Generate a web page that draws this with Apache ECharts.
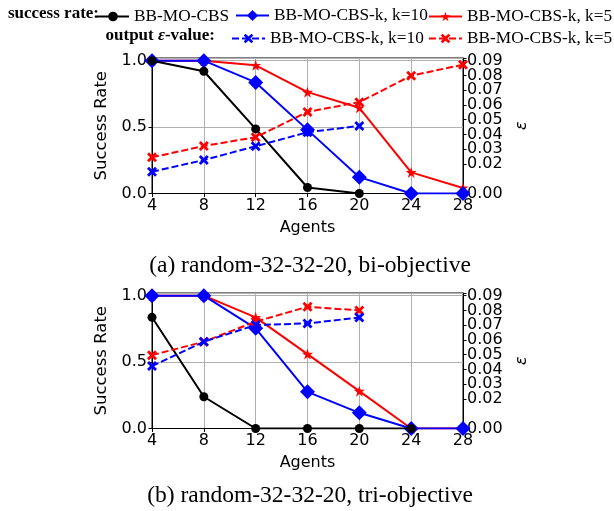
<!DOCTYPE html>
<html>
<head>
<meta charset="utf-8">
<script src="https://cdn.jsdelivr.net/npm/echarts@6/dist/echarts.min.js"></script>
<style>html,body{margin:0;padding:0;background:#fff;}#c{width:614px;height:511px;}</style>
</head>
<body>
<div id="c"></div>
<script>
// ---- data ----
var agents = [4, 8, 12, 16, 20, 24, 28];
var xTicks = [4, 8, 12, 16, 20, 24, 28];
var seriesNames = ['BB-MO-CBS', 'BB-MO-CBS-k, k=10', 'BB-MO-CBS-k, k=5', 'eps k=10', 'eps k=5'];
var legendLabels = ['BB-MO-CBS', 'BB-MO-CBS-k, k=10', 'BB-MO-CBS-k, k=5', 'BB-MO-CBS-k, k=10', 'BB-MO-CBS-k, k=5'];
// (a) bi-objective
var biSuccessBase = [1.0, 0.92, 0.486, 0.045, 0.0];
var biSuccessK10 = [1.0, 1.0, 0.836, 0.479, 0.123, 0.0, 0.0];
var biSuccessK5 = [1.0, 1.0, 0.965, 0.763, 0.645, 0.159, 0.042];
var biEpsK10 = [0.0147, 0.0227, 0.0320, 0.0415, 0.0458];
var biEpsK5 = [0.0245, 0.0322, 0.0381, 0.0553, 0.0619, 0.0798, 0.0873];
// (b) tri-objective
var triSuccessBase = [0.837, 0.239, 0.0, 0.0, 0.0, 0.0];
var triSuccessK10 = [1.0, 1.0, 0.754, 0.276, 0.118, 0.0, 0.0];
var triSuccessK5 = [1.0, 1.0, 0.837, 0.560, 0.281, 0.0, 0.0];
var triEpsK10 = [0.0423, 0.0588, 0.0701, 0.0712, 0.0752];
var triEpsK5 = [0.0497, 0.0588, 0.0724, 0.0825, 0.0800];
var captions = ['(a) random-32-32-20, bi-objective', '(b) random-32-32-20, tri-objective'];

// ---- styling ----
var STAR = 'path://M100,0 L122.45,69.1 L195.1,69.1 L136.3,111.8 L158.8,180.9 L100,138.2 L41.2,180.9 L63.7,111.8 L4.9,69.1 L77.55,69.1 Z';
var XMARK = 'path://M0,1.2 L1.2,0 L3,1.8 L4.8,0 L6,1.2 L4.2,3 L6,4.8 L4.8,6 L3,4.2 L1.2,6 L0,4.8 L1.8,3 Z';
var AX_FONT = 'DejaVu Sans';
var SERIF = 'Liberation Serif';

function pairs(vals) { return vals.map(function (v, i) { return [agents[i], v]; }); }

var grids = [
  { left: 152, top: 58, width: 311, height: 135.5 },
  { left: 152, top: 293, width: 311, height: 135.5 }
];

function xAxis(gi) {
  return {
    type: 'value', gridIndex: gi, min: 4, max: 28, interval: 4,
    name: 'Agents', nameLocation: 'middle', nameGap: 26,
    nameTextStyle: { fontFamily: AX_FONT, fontSize: 16, color: '#000' },
    axisLine: { show: true, onZero: false, lineStyle: { color: '#000', width: 1 } },
    axisTick: { show: true, length: 3.5, lineStyle: { color: '#000' } },
    axisLabel: { fontFamily: AX_FONT, fontSize: 16, color: '#000', margin: 4, showMinLabel: true, showMaxLabel: true,
      formatter: function (v) { return xTicks.indexOf(v) >= 0 ? String(v) : ''; } },
    splitLine: { show: true, lineStyle: { color: '#b0b0b0', width: 1 } }
  };
}
function yLeft(gi) {
  return {
    type: 'value', gridIndex: gi, position: 'left', min: 0, max: 1.02, interval: 0.5,
    name: 'Success Rate', nameLocation: 'middle', nameGap: 33, nameRotate: 90,
    nameTextStyle: { fontFamily: AX_FONT, fontSize: 16.5, color: '#000' },
    axisLine: { show: true, lineStyle: { color: '#000', width: 1 } },
    axisTick: { show: true, length: 3.5, lineStyle: { color: '#000' } },
    axisLabel: { fontFamily: AX_FONT, fontSize: 16, color: '#000', margin: 5, showMinLabel: true,
      formatter: function (v) { return Math.abs(v * 2 - Math.round(v * 2)) < 1e-6 ? v.toFixed(1) : ''; } },
    splitLine: { show: true, lineStyle: { color: '#b0b0b0', width: 1 } }
  };
}
function yRight(gi) {
  return {
    type: 'value', gridIndex: gi, position: 'right', min: 0, max: 0.0918, interval: 0.01,
    name: '\u03b5', nameLocation: 'middle', nameGap: 40, nameRotate: 90,
    nameTextStyle: { fontFamily: AX_FONT, fontSize: 16, fontStyle: 'italic', color: '#000' },
    axisLine: { show: true, lineStyle: { color: '#000', width: 1 } },
    axisTick: { show: true, length: 3.5, lineStyle: { color: '#000' } },
    axisLabel: { fontFamily: AX_FONT, fontSize: 16, color: '#000', margin: 4, showMinLabel: true,
      formatter: function (v) { return Math.abs(v * 100 - Math.round(v * 100)) < 1e-6 ? v.toFixed(2) : ''; } },
    splitLine: { show: false }
  };
}

function makeSeries(gi, base, k10, k5, e10, e5) {
  var xi = gi, yl = gi * 2, yr = gi * 2 + 1;
  return [
    { name: seriesNames[2], type: 'line', xAxisIndex: xi, yAxisIndex: yl, data: pairs(k5),
      symbol: STAR, symbolSize: 11, itemStyle: { color: '#ff0000' },
      lineStyle: { color: '#ff0000', width: 2 }, z: 2, animation: false },
    { name: seriesNames[1], type: 'line', xAxisIndex: xi, yAxisIndex: yl, data: pairs(k10),
      symbol: 'diamond', symbolSize: 15, itemStyle: { color: '#0000ff' },
      lineStyle: { color: '#0000ff', width: 2 }, z: 3, animation: false },
    { name: seriesNames[0], type: 'line', xAxisIndex: xi, yAxisIndex: yl, data: pairs(base),
      symbol: 'circle', symbolSize: 9, itemStyle: { color: '#000000' },
      lineStyle: { color: '#000000', width: 2 }, z: 4, animation: false },
    { name: seriesNames[4], type: 'line', xAxisIndex: xi, yAxisIndex: yr, data: pairs(e5),
      symbol: XMARK, symbolSize: 10, itemStyle: { color: '#ff0000' },
      lineStyle: { color: '#ff0000', width: 2, type: [7, 3] }, z: 5, animation: false },
    { name: seriesNames[3], type: 'line', xAxisIndex: xi, yAxisIndex: yr, data: pairs(e10),
      symbol: XMARK, symbolSize: 10, itemStyle: { color: '#0000ff' },
      lineStyle: { color: '#0000ff', width: 2, type: [7, 3] }, z: 6, animation: false }
  ];
}

function legendItem(idx, left, top, w, h) {
  return {
    data: [seriesNames[idx]], left: left, top: top, itemWidth: w, itemHeight: h,
    padding: 0, selectedMode: false, orient: 'horizontal',
    formatter: function () { return legendLabels[idx]; },
    textStyle: { fontFamily: SERIF, fontSize: 17.3, color: '#000' }
  };
}

var option = {
  animation: false,
  backgroundColor: '#fff',
  grid: grids.map(function (g) { return Object.assign({ show: true, borderColor: '#000', borderWidth: 1, backgroundColor: 'transparent' }, g); }),
  xAxis: [xAxis(0), xAxis(1)],
  yAxis: [yLeft(0), yRight(0), yLeft(1), yRight(1)],
  legend: [
    legendItem(0, 96, 8, 32, 12),
    legendItem(1, 235, 7, 33, 14),
    legendItem(2, 428, 8, 33, 12),
    legendItem(3, 231, 30, 33, 12),
    legendItem(4, 428, 30, 33, 12)
  ],
  graphic: [
    { type: 'text', x: 99, y: 14, style: { text: 'success rate:', font: 'bold 17px "Liberation Serif"', fill: '#000', align: 'right', verticalAlign: 'middle' } },
    { type: 'text', x: 215, y: 36, style: {
        text: '{b|output }{i|\u03b5}{b|-value:}', align: 'right', verticalAlign: 'middle',
        rich: { b: { font: 'bold 17px "Liberation Serif"', fill: '#000' }, i: { font: 'italic bold 17px "Liberation Serif"', fill: '#000' } } } },
    { type: 'text', x: 310, y: 266, style: { text: captions[0], font: '23.5px "Liberation Serif"', fill: '#000', align: 'center', verticalAlign: 'middle' } },
    { type: 'text', x: 310, y: 496, style: { text: captions[1], font: '23.5px "Liberation Serif"', fill: '#000', align: 'center', verticalAlign: 'middle' } }
  ],
  series: [].concat(
    makeSeries(0, biSuccessBase, biSuccessK10, biSuccessK5, biEpsK10, biEpsK5),
    makeSeries(1, triSuccessBase, triSuccessK10, triSuccessK5, triEpsK10, triEpsK5)
  )
};
var chart = echarts.init(document.getElementById('c'), null, { renderer: 'canvas' });
chart.setOption(option);
</script>
</body>
</html>
